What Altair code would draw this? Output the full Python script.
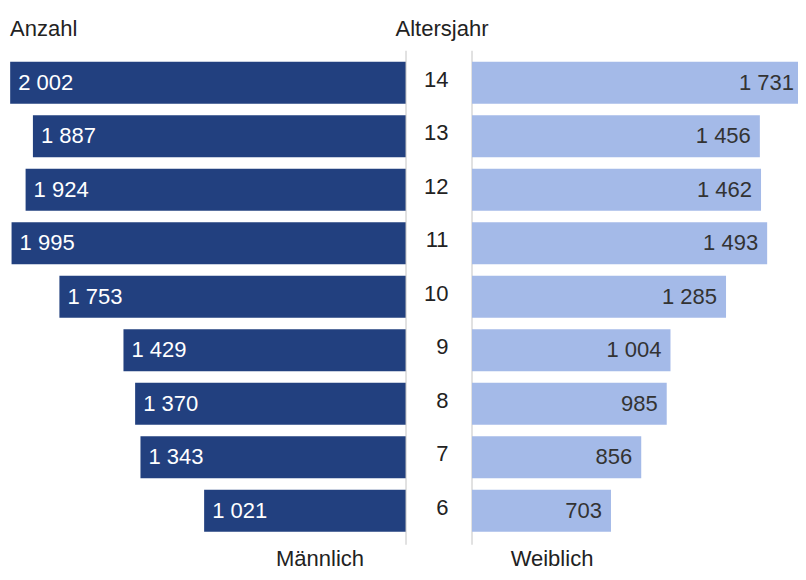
import altair as alt
import pandas as pd

ages = [14, 13, 12, 11, 10, 9, 8, 7, 6]
maennlich = [2002, 1887, 1924, 1995, 1753, 1429, 1370, 1343, 1021]
weiblich = [1731, 1456, 1462, 1493, 1285, 1004, 985, 856, 703]

def fmt(v):
    return f"{v:,}".replace(",", " ")

df = pd.DataFrame({
    "age": ages,
    "m": maennlich,
    "w": weiblich,
    "m_lab": [fmt(v) for v in maennlich],
    "w_lab": [fmt(v) for v in weiblich],
})

FONT = "Liberation Sans"
FS = 22
DARK = "#22407f"
LIGHT = "#a4bae8"
TXT = "#222222"
H = 481.5
R_MAX = 1649  # visible part of the right axis
BOTTOM_Y = 510

yenc = alt.Y("age:O", sort=ages, axis=None,
             scale=alt.Scale(paddingInner=0.215, paddingOuter=0.1075))

base = alt.Chart(df)
one = pd.DataFrame({"a": [0]})

# invisible rule that fixes the top edge of the drawing
spacer = alt.Chart(one).mark_rule(strokeOpacity=0, strokeWidth=1).encode(
    x=alt.value(0), y=alt.value(-47.75), y2=alt.value(0))

xl = alt.X("m:Q", axis=None, scale=alt.Scale(domain=[0, 2013], reverse=True, nice=False, zero=True))
left = alt.layer(
    spacer,
    base.mark_bar(color=DARK).encode(x=xl, y=yenc),
    base.mark_text(align="left", baseline="middle", dx=8, font=FONT, fontSize=FS, color="white").encode(
        x=xl, y=yenc, text="m_lab:N"),
    alt.Chart(pd.DataFrame({"t": ["Anzahl"]})).mark_text(
        align="left", baseline="alphabetic", font=FONT, fontSize=FS, color=TXT).encode(
        x=alt.value(2), y=alt.value(-20.5), text="t:N"),
    alt.Chart(pd.DataFrame({"t": ["Männlich"]})).mark_text(
        align="center", baseline="alphabetic", font=FONT, fontSize=FS, color=TXT).encode(
        x=alt.value(312), y=alt.value(BOTTOM_Y), text="t:N"),
).properties(width=398, height=H)

center = alt.layer(
    alt.Chart(one).mark_rule(color="#c4c4c4", strokeWidth=1).encode(
        x=alt.value(0), y=alt.value(-5.25), y2=alt.value(488.75)),
    alt.Chart(one).mark_rule(color="#c4c4c4", strokeWidth=1).encode(
        x=alt.value(66), y=alt.value(-5.25), y2=alt.value(488.75)),
    base.mark_text(align="right", baseline="middle", dy=-3, font=FONT, fontSize=FS, color=TXT).encode(
        x=alt.value(42.5), y=yenc, text="age:N"),
    alt.Chart(pd.DataFrame({"t": ["Altersjahr"]})).mark_text(
        align="center", baseline="alphabetic", font=FONT, fontSize=FS, color=TXT).encode(
        x=alt.value(36), y=alt.value(-20.5), text="t:N"),
).properties(width=66, height=H)

xr = alt.X("w:Q", axis=None, scale=alt.Scale(domain=[0, R_MAX], nice=False, zero=True))
xr_lab = alt.X("w_pos:Q", axis=None, scale=alt.Scale(domain=[0, R_MAX], nice=False, zero=True))
right = alt.layer(
    base.mark_bar(color=LIGHT, clip=True).encode(x=xr, y=yenc),
    base.transform_calculate(w_pos=f"min(datum.w, {R_MAX + 25})").mark_text(
        align="right", baseline="middle", dx=-9, font=FONT, fontSize=FS, color="#333333").encode(
        x=xr_lab, y=yenc, text="w_lab:N"),
    alt.Chart(pd.DataFrame({"t": ["Weiblich"]})).mark_text(
        align="center", baseline="alphabetic", font=FONT, fontSize=FS, color=TXT).encode(
        x=alt.value(80), y=alt.value(BOTTOM_Y), text="t:N"),
).properties(width=326, height=H)

chart = alt.hconcat(left, center, right, spacing=0, bounds="flush").resolve_scale(
    x="independent"
).properties(padding=0).configure(background="white").configure_view(stroke="transparent", strokeWidth=0)

chart.save("out.html", embed_options={"renderer": "svg", "actions": False})
